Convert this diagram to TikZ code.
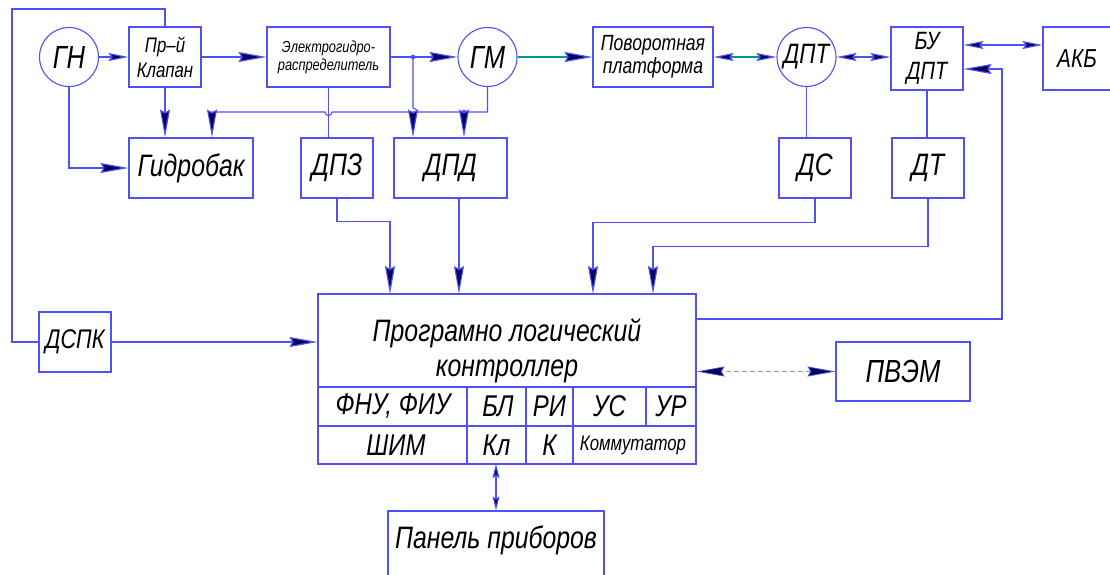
\documentclass[tikz,border=0pt]{standalone}
\usepackage{fontspec}
\newfontfamily\gost{Liberation Sans}[FakeStretch=0.8]
\usetikzlibrary{arrows.meta,calc}
\definecolor{lblue}{RGB}{80,80,250}
\definecolor{ahead}{RGB}{5,5,90}
\definecolor{lteal}{RGB}{0,150,150}
\newcommand{\fs}[2]{\gost\itshape\fontsize{#1}{#2}\selectfont}
\begin{document}
\begin{tikzpicture}[x=1pt,y=-1pt,
  boxn/.style={draw=lblue,line width=1.1pt,rectangle,inner sep=0pt,align=center,text=black},
  circn/.style={draw=lblue,line width=1.1pt,circle,inner sep=0pt,minimum size=59pt,text=black},
  txt/.style={inner sep=0pt,align=center,text=black},
  conn/.style={draw=lblue,line width=1.1pt},
  tconn/.style={draw=lteal,line width=1.1pt},
  arr/.style={-{Stealth[length=28pt,width=10pt,inset=3pt,color=lblue,fill=ahead]}},
  arrs/.style={-{Stealth[length=20pt,width=8pt,inset=3pt,color=lblue,fill=ahead]}},
  darr/.style={{Stealth[length=28pt,width=10pt,inset=3pt,color=lblue,fill=ahead]}-{Stealth[length=28pt,width=10pt,inset=3pt,color=lblue,fill=ahead]}},
  darrs/.style={{Stealth[length=20pt,width=8pt,inset=3pt,color=lblue,fill=ahead]}-{Stealth[length=20pt,width=8pt,inset=3pt,color=lblue,fill=ahead]}},
]
\clip (0,0) rectangle (1110,574);
\fill[white] (0,0) rectangle (1110,574);

% top row
\node[circn,font=\fs{32}{34}] (GN) at (69,57) {ГН};
\node[boxn,minimum width=72pt,minimum height=60pt,font=\fs{21}{25}] (klap) at (165,57) {Пр–й\\Клапан};
\node[boxn,minimum width=123pt,minimum height=60pt,font=\fs{16}{18}] (el) at (328.5,57) {Электрогидро-\\распределитель};
\node[circn,font=\fs{32}{34}] (GM) at (487.5,57) {ГМ};
\node[boxn,minimum width=120pt,minimum height=60pt,font=\fs{22}{23}] (plat) at (653,57) {Поворотная\\платформа};
\node[circn,font=\fs{28}{30}] (DPT) at (806.5,57) {ДПТ};
\node[boxn,minimum width=72pt,minimum height=63pt,font=\fs{25}{30}] (BU) at (927,58.5) {БУ\\ДПТ};
\node[boxn,minimum width=72pt,minimum height=63pt] (AKB) at (1079,58.5) {};
\node[txt,font=\fs{26}{28}] (AKBt) at (1077,58.5) {АКБ};

% second row
\node[boxn,minimum width=124pt,minimum height=60pt,font=\fs{31}{33}] (GB) at (191,168) {Гидробак};
\node[boxn,minimum width=72pt,minimum height=60pt,font=\fs{31}{33}] (DPZ) at (337,168) {ДПЗ};
\node[boxn,minimum width=113pt,minimum height=60pt,font=\fs{31}{33}] (DPD) at (450.5,168) {ДПД};
\node[boxn,minimum width=72pt,minimum height=60pt,font=\fs{31}{33}] (DS) at (815,168) {ДС};
\node[boxn,minimum width=72pt,minimum height=60pt,font=\fs{31}{33}] (DT) at (928,168) {ДТ};

% lower
\node[boxn,minimum width=72pt,minimum height=60pt,font=\fs{27}{30}] (DSPK) at (75,342) {ДСПК};
\node[boxn,minimum width=378pt,minimum height=170pt] (PLC) at (507,379) {};
\node[txt,font=\fs{31}{35}] (PLCt) at (507,351) {Програмно логический\\контроллер};
\node[boxn,minimum width=134pt,minimum height=59pt,font=\fs{32}{34}] (PVEM) at (903,371.5) {ПВЭМ};
\node[boxn,minimum width=216pt,minimum height=90pt] (PAN) at (496,556) {};
\node[txt,font=\fs{31}{33}] (PANt) at (496,540) {Панель приборов};

% PLC table
\draw[conn] (318,387) -- (696,387);
\draw[conn] (318,426) -- (696,426);
\draw[conn] (467,387) -- (467,464);
\draw[conn] (526,387) -- (526,464);
\draw[conn] (573,387) -- (573,464);
\draw[conn] (646,387) -- (646,426);
\node[txt,font=\fs{30}{32}] (c1) at (393,406.5) {ФНУ, ФИУ};
\node[txt,font=\fs{30}{32}] (c2) at (498,406.5) {БЛ};
\node[txt,font=\fs{30}{32}] (c3) at (549.5,406.5) {РИ};
\node[txt,font=\fs{30}{32}] (c4) at (609.5,406.5) {УС};
\node[txt,font=\fs{30}{32}] (c5) at (671,406.5) {УР};
\node[txt,font=\fs{30}{32}] (c6) at (396,445) {ШИМ};
\node[txt,font=\fs{30}{32}] (c7) at (496.5,445) {Кл};
\node[txt,font=\fs{30}{32}] (c8) at (549.5,445) {К};
\node[txt,font=\fs{21}{23}] (c9) at (633,445) {Коммутатор};

% coordinates
\coordinate (j1) at (413,57);
\coordinate (j2) at (464,112);
\coordinate (r1) at (212,112);
\coordinate (p1) at (390,294);
\coordinate (p2) at (459,294);
\coordinate (p3) at (593,294);
\coordinate (p4) at (653,294);
\coordinate (q1) at (696,319);
\coordinate (q2) at (1002,69);
\coordinate (o1) at (12,9);
\coordinate (pb) at (496,464);

% connectors
\draw[conn,arrs] (GN) -- (klap);
\draw[conn,arr] (klap) -- (el);
\draw[conn,arr] (klap.south) -- (klap.south |- GB.north);
\draw[conn,arr] (GN.south) |- (GB.west);
\draw[conn,arr] (el.east) -- (GM.west);
\fill[lblue] (j1) circle (2.3);
\draw[conn,arr] (GM.south) |- ($(el.south |- r1)+(3.5,0)$) arc[start angle=0,end angle=180,radius=3.5] -- (r1) -- (r1 |- GB.north);
\fill[lblue] (j2) circle (2.3);
\draw[conn,arr] (j2) -- (j2 |- DPD.north);
\draw[conn,arr] (j1) -- ($(j1 |- r1)+(0,-4)$) arc[start angle=-90,end angle=90,radius=4] -- (j1 |- DPD.north);
\draw[conn] (el.south) -- (el.south |- DPZ.north);
\draw[conn,arr] (DPZ.south) -- ++(0,23) -| (p1);
\draw[conn,arr] (p2 |- DPD.south) -- (p2);
\draw[conn,arr] (DS.south) -- ++(0,24) -| (p3);
\draw[conn,arr] (DT.south) -- ++(0,48) -| (p4);
\draw[conn,arr] (q1) -| (q2) -- (q2 -| BU.east);
\draw[tconn,arr] (GM) -- (plat);
\draw[tconn,darrs] (plat) -- (DPT);
\draw[conn,darrs] (DPT) -- (DPT -| BU.west);
\draw[conn,darrs] ([yshift=13.5pt]BU.east) -- ([yshift=13.5pt]BU.east -| AKB.west);
\draw[conn] (DPT.south) -- (DPT.south |- DS.north);
\draw[conn] (BU.south) -- (BU.south |- DT.north);
\draw[conn] (klap.north) |- (o1) |- (DSPK.west);
\draw[conn,arr] (DSPK.east) -- (DSPK.east -| PLC.west);
\draw[draw=gray!80,line width=0.7pt,dash pattern=on 5pt off 3pt,darr] (PVEM.west) -- (PVEM.west -| PLC.east);
\draw[conn,{Stealth[length=14pt,width=7pt,inset=2pt,color=lblue,fill=ahead]}-{Stealth[length=14pt,width=7pt,inset=2pt,color=lblue,fill=ahead]}] (pb) -- (pb |- PAN.north);
\end{tikzpicture}
\end{document}
